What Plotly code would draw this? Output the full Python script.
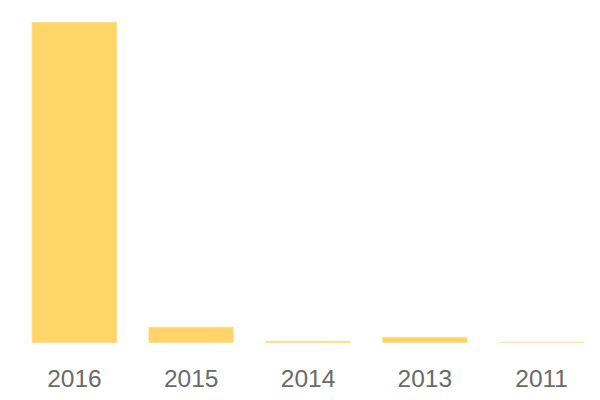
import plotly.graph_objects as go

years = ["2016", "2015", "2014", "2013", "2011"]
values = [321, 16, 2, 6, 1]

fig = go.Figure(go.Bar(
    x=years, y=values,
    marker=dict(color="#FFD56A", line=dict(color="rgba(255,240,200,0.8)", width=1)),
))
fig.update_layout(
    width=600, height=400,
    margin=dict(l=8, r=8, t=14, b=65),
    paper_bgcolor="white", plot_bgcolor="white",
    bargap=0.27, showlegend=False,
    font=dict(family="Liberation Sans, Arial, sans-serif"),
)
fig.update_xaxes(showgrid=False, showline=False, zeroline=False,
                 tickfont=dict(size=24.5, color="#6a6a6a"), ticklabelstandoff=18)
fig.update_yaxes(visible=False, range=[0, 321])
fig.write_html("out.html")
